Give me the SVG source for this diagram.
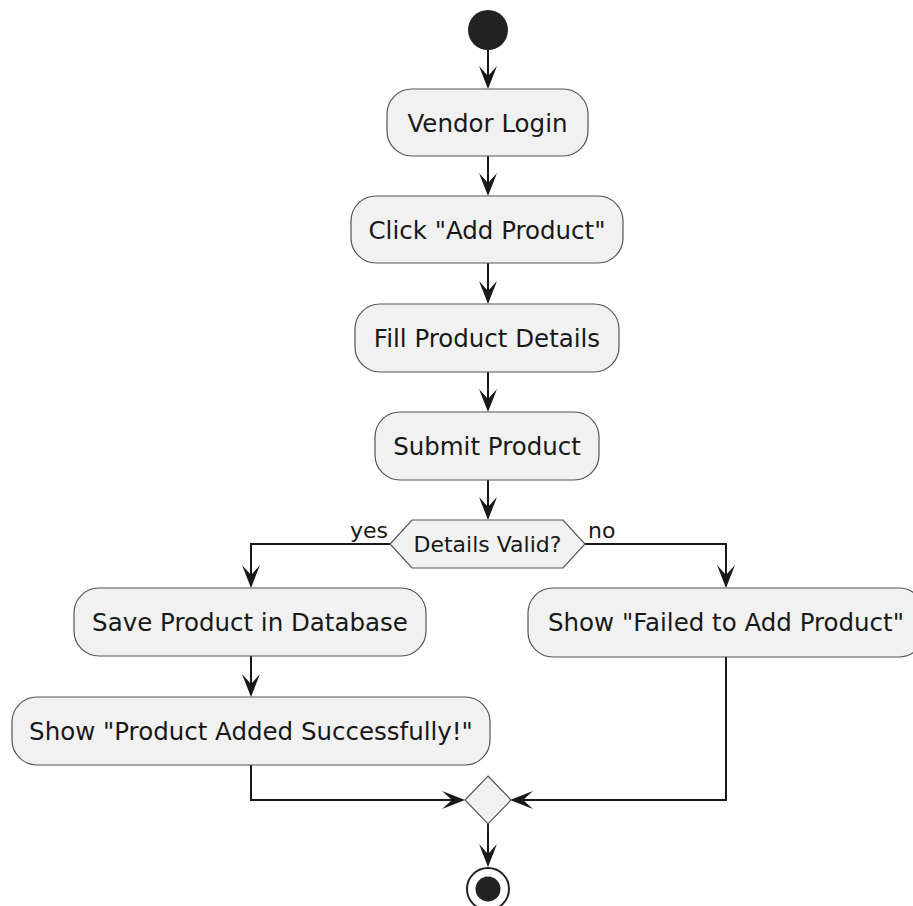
<svg xmlns="http://www.w3.org/2000/svg" width="913" height="906" viewBox="0 0 913 906">
  <style>
    .act { fill: #F1F1F1; stroke: #555555; stroke-width: 1.2; }
    .lbl { font-family: "DejaVu Sans", "Liberation Sans", sans-serif; font-size: 24.5px; fill: #181818; text-anchor: middle; }
    .small { font-family: "DejaVu Sans", "Liberation Sans", sans-serif; font-size: 22px; fill: #181818; }
    .edge { fill: none; stroke: #181818; stroke-width: 2; }
    .head { fill: #181818; stroke: none; }
  </style>
  <defs>
    <!-- arrowhead pointing down, tip at origin -->
    <polygon id="ah" points="-9,-23 0,0 9,-23 0,-13"/>
  </defs>

  <rect width="913" height="906" fill="#FFFFFF"/>

  <g id="connectors">
    <line class="edge" x1="488" y1="49" x2="488" y2="87"/>
    <line class="edge" x1="488" y1="156" x2="488" y2="194"/>
    <line class="edge" x1="488" y1="263" x2="488" y2="302"/>
    <line class="edge" x1="488" y1="372" x2="488" y2="410"/>
    <line class="edge" x1="488" y1="480" x2="488" y2="518"/>
    <polyline class="edge" points="390,544 251,544 251,586"/>
    <polyline class="edge" points="585,544 726,544 726,586"/>
    <line class="edge" x1="251" y1="656" x2="251" y2="695"/>
    <polyline class="edge" points="251,765 251,800 463,800"/>
    <polyline class="edge" points="726,657 726,800 512,800"/>
    <line class="edge" x1="488" y1="824" x2="488" y2="865"/>

    <use href="#ah" class="head" transform="translate(488,89)"/>
    <use href="#ah" class="head" transform="translate(488,196)"/>
    <use href="#ah" class="head" transform="translate(488,304)"/>
    <use href="#ah" class="head" transform="translate(488,412)"/>
    <use href="#ah" class="head" transform="translate(488,520)"/>
    <use href="#ah" class="head" transform="translate(251,588)"/>
    <use href="#ah" class="head" transform="translate(726,588)"/>
    <use href="#ah" class="head" transform="translate(251,697)"/>
    <use href="#ah" class="head" transform="translate(465,800) rotate(-90)"/>
    <use href="#ah" class="head" transform="translate(510,800) rotate(90)"/>
    <use href="#ah" class="head" transform="translate(488,867)"/>

    <text class="small" x="350" y="538">yes</text>
    <text class="small" x="588" y="538">no</text>
  </g>

  <g id="start">
    <circle cx="488" cy="30" r="20" fill="#222222"/>
  </g>

  <g id="vendor-login">
    <rect class="act" x="387" y="89" width="201" height="67" rx="25"/>
    <text class="lbl" x="487.5" y="132">Vendor Login</text>
  </g>

  <g id="click-add-product">
    <rect class="act" x="351" y="196" width="272" height="67" rx="25"/>
    <text class="lbl" x="487" y="239">Click "Add Product"</text>
  </g>

  <g id="fill-details">
    <rect class="act" x="355" y="304" width="264" height="68" rx="25"/>
    <text class="lbl" x="487" y="347">Fill Product Details</text>
  </g>

  <g id="submit-product">
    <rect class="act" x="375" y="412" width="224" height="68" rx="25"/>
    <text class="lbl" x="487" y="455">Submit Product</text>
  </g>

  <g id="details-valid">
    <polygon class="act" points="390,544 412,520 563,520 585,544 563,568 412,568"/>
    <text class="small" x="487.5" y="552" text-anchor="middle">Details Valid?</text>
  </g>

  <g id="save-product">
    <rect class="act" x="74" y="588" width="352" height="68" rx="25"/>
    <text class="lbl" x="250" y="631">Save Product in Database</text>
  </g>

  <g id="show-success">
    <rect class="act" x="12" y="697" width="478" height="68" rx="25"/>
    <text class="lbl" x="251" y="740">Show "Product Added Successfully!"</text>
  </g>

  <g id="show-failed">
    <rect class="act" x="528" y="588" width="396" height="69" rx="25"/>
    <text class="lbl" x="726" y="631">Show "Failed to Add Product"</text>
  </g>

  <g id="merge">
    <polygon class="act" points="488,776 511,800 488,824 465,800"/>
  </g>

  <g id="end">
    <circle cx="488" cy="889" r="21" fill="#FFFFFF" stroke="#222222" stroke-width="2"/>
    <circle cx="488" cy="889" r="12.5" fill="#222222"/>
  </g>
</svg>
